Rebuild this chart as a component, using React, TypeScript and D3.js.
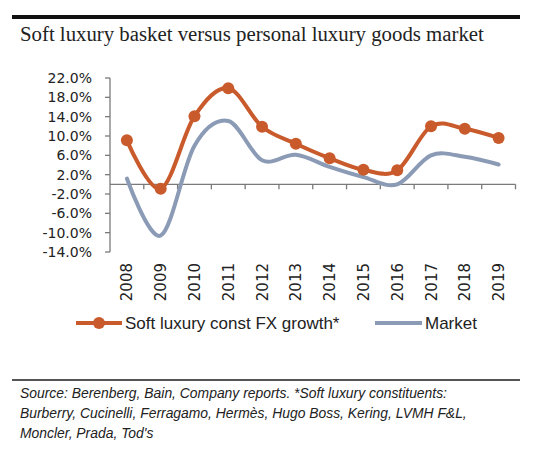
import React from "react";
import * as d3 from "d3";

const years = ["2008","2009","2010","2011","2012","2013","2014","2015","2016","2017","2018","2019"];
const softLuxury = [9.1, -0.9, 14.1, 19.9, 11.9, 8.4, 5.4, 3.0, 2.9, 12.0, 11.5, 9.6];
const market = [1.2, -10.6, 8.0, 13.1, 5.0, 6.1, 3.6, 1.5, 0.0, 6.0, 5.7, 4.1];
const yTicks = [22, 18, 14, 10, 6, 2, -2, -6, -10, -14];
const title = "Soft luxury basket versus personal luxury goods market";
const legendLabels = ["Soft luxury const FX growth*", "Market"];
const footnote = [
  "Source: Berenberg, Bain, Company reports. *Soft luxury constituents:",
  "Burberry, Cucinelli, Ferragamo, Hermès, Hugo Boss, Kering, LVMH F&L,",
  "Moncler, Prada, Tod's",
];

const ORANGE = "#C95A2C";
const BLUE = "#8B9BB6";
const AXIS = "#7a7a7a";

export default function App() {
  const W = 560, H = 449;
  const x = d3.scaleBand<string>().domain(years).range([110, 515.5]).padding(0);
  const y = d3.scaleLinear().domain([-14, 22]).range([252, 78]);
  const cx = (yr: string) => (x(yr) as number) + x.bandwidth() / 2;

  const line = d3
    .line<number>()
    .x((_, i) => cx(years[i]))
    .y((d) => y(d))
    .curve(d3.curveCardinal.tension(0));

  const sans = "'Liberation Sans', Arial, sans-serif";
  const tickFont = "'DejaVu Sans', sans-serif";

  return (
    <svg width={W} height={H} style={{ position: "absolute", left: 0, top: 0, background: "#fff" }}>
      <rect x={12} y={15} width={508} height={4} fill="#111" />
      <text x={20} y={41} fontFamily="'Liberation Serif', 'DejaVu Serif', serif" fontSize={20.8} fill="#222">
        {title}
      </text>

      {/* y axis */}
      <line x1={110} x2={110} y1={y(22)} y2={y(-14)} stroke={AXIS} strokeWidth={1.3} />
      {yTicks.map((t) => (
        <g key={t}>
          <line x1={105} x2={110} y1={y(t)} y2={y(t)} stroke={AXIS} strokeWidth={1.3} />
          <text x={92} y={y(t)} dy="0.36em" textAnchor="end" fontFamily={tickFont} fontSize={14} fill="#222">
            {t.toFixed(1) + "%"}
          </text>
        </g>
      ))}

      {/* x axis at zero */}
      <line x1={110} x2={515.5} y1={y(0)} y2={y(0)} stroke={AXIS} strokeWidth={1.3} />
      {years.map((yr) => (
        <line key={"t" + yr} x1={(x(yr) as number) + x.bandwidth()} x2={(x(yr) as number) + x.bandwidth()} y1={y(0)} y2={y(0) + 5} stroke={AXIS} strokeWidth={1.3} />
      ))}
      {years.map((yr) => (
        <text key={"l" + yr} transform={`translate(${cx(yr) + 5.5},263) rotate(-90)`} textAnchor="end" fontFamily={tickFont} fontSize={15} fill="#222">
          {yr}
        </text>
      ))}

      {/* series */}
      <path d={line(market) || ""} fill="none" stroke={BLUE} strokeWidth={4} strokeLinecap="round" />
      <path d={line(softLuxury) || ""} fill="none" stroke={ORANGE} strokeWidth={4} strokeLinecap="round" />
      {softLuxury.map((v, i) => (
        <circle key={"c" + i} cx={cx(years[i])} cy={y(v)} r={6} fill={ORANGE} />
      ))}

      {/* legend */}
      <line x1={76} x2={122} y1={323} y2={323} stroke={ORANGE} strokeWidth={4} />
      <circle cx={99} cy={323} r={6} fill={ORANGE} />
      <text x={125} y={323} dy="0.35em" fontFamily={sans} fontSize={17} fill="#222">{legendLabels[0]}</text>
      <line x1={375} x2={422} y1={323} y2={323} stroke={BLUE} strokeWidth={4} />
      <text x={425} y={323} dy="0.35em" fontFamily={sans} fontSize={17} fill="#222">{legendLabels[1]}</text>

      {/* footnote */}
      <rect x={12} y={379} width={508} height={2} fill="#555" />
      {footnote.map((t, i) => (
        <text key={"f" + i} x={20} y={398 + i * 20} fontFamily={sans} fontStyle="italic" fontSize={13.9} fill="#222">
          {t}
        </text>
      ))}
    </svg>
  );
}
